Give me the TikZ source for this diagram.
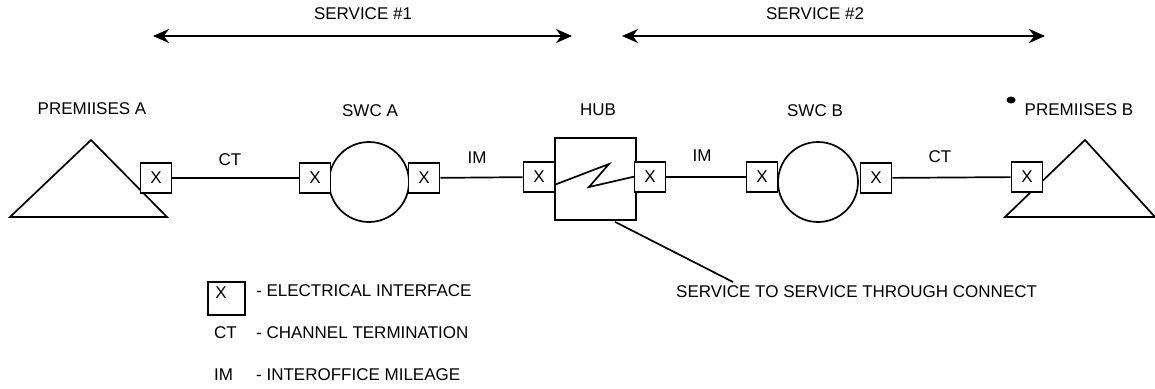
\documentclass[tikz,border=0pt]{standalone}
\usepackage{fontspec}
\setmainfont{Liberation Sans}
\usetikzlibrary{arrows.meta,calc}
\begin{document}
\begin{tikzpicture}[x=1pt,y=-1pt,line width=1.7pt,>={Stealth[length=16pt,width=14pt]},font=\fontsize{17}{20}\selectfont,
    xbox/.style={draw,fill=white,minimum width=31,minimum height=30,inner sep=0pt},
    office/.style={draw,circle,minimum size=80,inner sep=0pt}]
                \useasboundingbox (0,0) rectangle (1155,388);
                \coordinate (s1L) at (153,36);
                \coordinate (s1R) at (572,36);
                \coordinate (s2L) at (622,36);
                \coordinate (s2R) at (1045,36);
                \draw[<->,line width=2.8pt] (s1L)--(s1R);
                \draw[<->,line width=2.8pt] (s2L)--(s2R);
                \node (srv1) at (363,14) {SERVICE \#1};
                \node (srv2) at (815,14) {SERVICE \#2};
                \draw (10,217)--(91,140)--(167,217)--cycle;
                \draw (1005,217)--(1085,140)--(1155,217)--cycle;
                \node[office] (swcA) at (369,182) {};
                \node[office] (swcB) at (818,182) {};
                \node[draw,minimum width=81,minimum height=82,inner sep=0pt] (hub) at (595.5,179) {};
                \draw ($(hub.west)+(0,6)$)--($(hub.center)+(13.5,-15)$)--($(hub.center)+(-6.5,8)$)--($(hub.east)+(0,-3)$);
                \node[xbox] (xA) at (156,178) {X};
                \node[xbox] (xA1) at (315,178) {X};
                \node[xbox] (xA2) at (424,178) {X};
                \node[xbox] (xH1) at (539,177) {X};
                \node[xbox] (xH2) at (650,177) {X};
                \node[xbox] (xB1) at (762,177) {X};
                \node[xbox] (xB2) at (876,178) {X};
                \node[xbox] (xB) at (1027,177) {X};
                \draw (xA)--(xA1);
                \draw (xA2)--(xH1);
                \draw (xH2)--(xB1);
                \draw (xB2)--(xB);
                \node at (230,160) {CT};
                \node at (477,158) {IM};
                \node at (702,156) {IM};
                \node at (940,157) {CT};
                \node (premA) at (92,109) {PREMIISES A};
                \node (labA) at (370,111) {SWC A};
                \node (labH) at (598,110) {HUB};
                \node (labB) at (815,111) {SWC B};
                \node (premB) at (1079,110) {PREMIISES B};
                \fill (1011,100) ellipse (4.5 and 3.5);
                \node[anchor=west] (thru) at (672,292) {SERVICE TO SERVICE THROUGH CONNECT};
                \coordinate (thruTip) at (733,282);
                \draw ($(hub.south)+(19.5,1)$)--(thruTip);
                \node[draw,minimum width=37,minimum height=33,inner sep=0pt] (legX) at (226.5,298.5) {};
                \node at ($(legX.west)+(14,-6)$) {X};
                \node[anchor=west] at (252,291) {- ELECTRICAL INTERFACE};
                \node[anchor=west] at (210,333) {CT};
                \node[anchor=west] at (252,333) {- CHANNEL TERMINATION};
                \node[anchor=west] at (210,375) {IM};
                \node[anchor=west] at (252,375) {- INTEROFFICE MILEAGE};
            \end{tikzpicture}
\end{document}
